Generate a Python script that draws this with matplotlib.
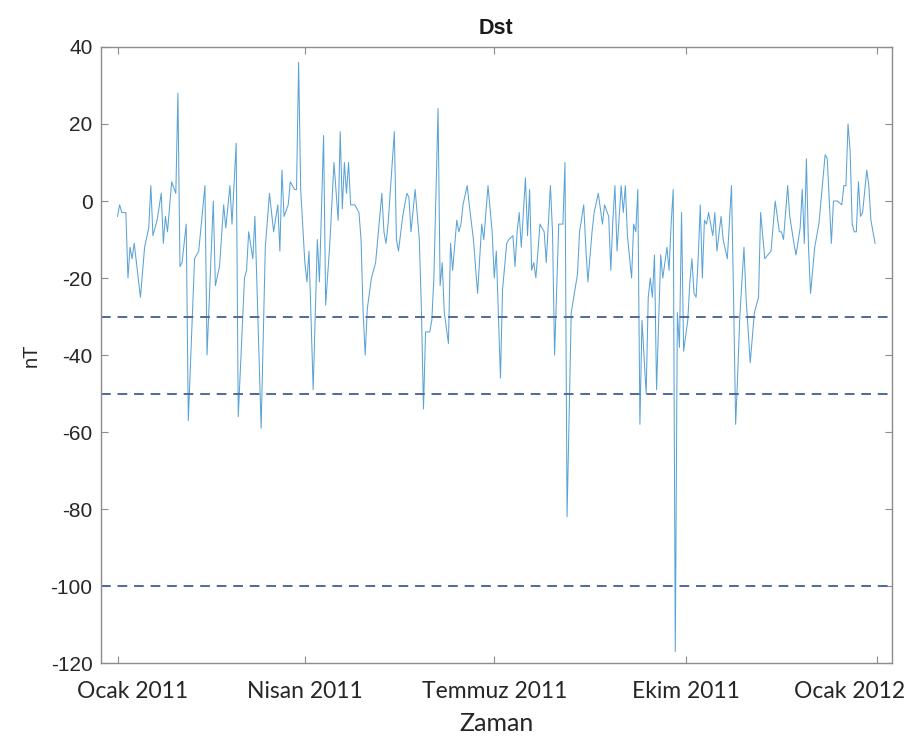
import numpy as np
import matplotlib
matplotlib.use("Agg")
import matplotlib.pyplot as plt
from matplotlib.transforms import ScaledTranslation

matplotlib.rcParams['font.family'] = ['Liberation Sans', 'DejaVu Sans']
matplotlib.rcParams['axes.unicode_minus'] = False

# ── data: Dst index (nT), day offsets from 2011-01-01 ──
day_offset = [
    0, 1, 2, 4, 5, 6, 7, 8, 11, 13, 15, 16, 17, 19, 21, 22, 23, 24, 26, 28,
    29, 30, 31, 33, 34, 37, 39, 42, 43, 46, 47, 49, 51, 52, 54, 55, 57, 58, 61, 62,
    63, 65, 66, 69, 71, 73, 75, 77, 78, 79, 80, 82, 83, 85, 86, 87, 88, 90, 91, 92,
    94, 96, 97, 99, 100, 102, 104, 106, 107, 108, 109, 110, 111, 112, 114, 116, 117, 118, 119, 120,
    122, 124, 125, 127, 128, 129, 130, 133, 134, 135, 137, 139, 140, 141, 143, 145, 146, 147, 148, 150,
    151, 152, 154, 155, 156, 157, 159, 160, 161, 163, 164, 165, 166, 168, 169, 171, 173, 175, 176, 178,
    180, 181, 182, 184, 185, 187, 188, 190, 191, 192, 193, 194, 196, 197, 198, 199, 200, 201, 203, 205,
    206, 208, 209, 210, 212, 214, 215, 216, 218, 221, 222, 224, 225, 226, 228, 229, 231, 233, 234, 236,
    237, 238, 239, 240, 242, 243, 244, 245, 247, 248, 249, 250, 251, 252, 254, 255, 256, 257, 258, 259,
    261, 262, 264, 265, 266, 267, 268, 269, 270, 271, 272, 274, 275, 276, 277, 278, 279, 280, 281, 282,
    283, 284, 286, 287, 288, 290, 291, 293, 295, 296, 297, 298, 299, 301, 302, 304, 306, 308, 309, 311,
    314, 316, 318, 319, 320, 322, 323, 325, 326, 328, 329, 330, 331, 332, 333, 335, 337, 338, 340, 341,
    343, 344, 346, 348, 349, 350, 351, 352, 353, 354, 355, 356, 357, 358, 360, 361, 362, 364,
]
dst_nT = [
    -4, -1, -3, -3, -20, -12, -15, -11, -25, -12, -7, 4, -9, -5, 2, -11, -4, -8, 5, 2,
    28, -17, -16, -6, -57, -15, -13, 4, -40, 0, -22, -17, -1, -7, 4, -6, 15, -56, -20, -18,
    -8, -15, -4, -59, -12, 2, -8, -1, -13, 8, -4, -1, 5, 3, 3, 36, 3, -16, -21, -13,
    -49, -10, -21, 17, -27, -11, 10, -5, 18, -2, 10, 2, 10, -1, -1, -3, -10, -29, -40, -28,
    -20, -16, -10, 2, -8, -11, -6, 18, -10, -13, -4, 2, 1, -8, 3, -10, -28, -54, -34, -34,
    -31, -20, 24, -22, -16, -29, -37, -11, -18, -5, -8, -6, -1, 4, -1, -10, -24, -6, -10, 4,
    -8, -20, -13, -46, -23, -11, -10, -9, -17, -8, -3, -12, 6, -9, 3, -18, -16, -20, -6, -8,
    -16, 4, -8, -40, -6, -6, 10, -82, -29, -19, -8, -1, -12, -21, -8, -3, 2, -6, -1, -4,
    -18, -5, 4, -13, 4, -3, 4, -9, -20, -6, -8, 3, -58, -31, -50, -25, -20, -25, -14, -49,
    -14, -20, -12, -18, -6, 3, -117, -29, -38, -3, -39, -31, -21, -15, -24, -25, -15, -1, -20, -5,
    -6, -3, -9, -3, -13, -4, -10, -15, 4, -25, -58, -45, -30, -12, -25, -42, -29, -25, -3, -15,
    -13, 0, -8, -8, -10, 4, -4, -11, -14, -7, 3, -11, 11, -12, -24, -12, -6, 0, 12, 11,
    -11, 0, 0, -1, 4, 4, 20, 13, -6, -8, -8, 5, -4, -3, 8, 4, -5, -11,
]
storm_levels = [-30, -50, -100]

yticks = list(range(-120, 41, 20))
tick_dates = ["2011-01-01", "2011-04-01", "2011-07-01", "2011-10-01", "2012-01-01"]
tick_labels = ["Ocak 2011", "Nisan 2011", "Temmuz 2011", "Ekim 2011", "Ocak 2012"]

start = np.datetime64("2011-01-01")
dates = start + np.array(day_offset).astype("timedelta64[D]")

fig = plt.figure(figsize=(9.09, 7.40), dpi=100)
ax = fig.add_axes([0.111, 0.104, 0.870, 0.8325])

ax.plot(dates, dst_nT, color="#5aa3d6", linewidth=0.75)
for lvl in storm_levels:
    ax.axhline(lvl, color="#50699a", linestyle=(0, (5, 3.5)), linewidth=1.4)

ax.set_ylim(-120, 40)
ax.set_yticks(yticks)
ax.set_xlim(start - np.timedelta64(8, "D"), start + np.timedelta64(372, "D"))
ax.set_xticks([np.datetime64(d) for d in tick_dates])
ax.set_xticklabels(tick_labels, family=["Lato", "DejaVu Sans"], fontsize=16.5)

for s in ax.spines.values():
    s.set_color("#8c8c8c")
    s.set_linewidth(1.0)
ax.tick_params(direction="in", top=True, right=True, length=5, width=0.8,
               color="#8c8c8c", labelcolor="#262626")
ax.tick_params(axis="y", labelsize=15, pad=6)
ax.tick_params(axis="x", pad=13)

# first and last month labels sit a bit inward in the original
xlabs = ax.get_xticklabels()
xlabs[0].set_transform(xlabs[0].get_transform() + ScaledTranslation(0.15, 0, fig.dpi_scale_trans))
xlabs[-1].set_transform(xlabs[-1].get_transform() + ScaledTranslation(-0.28, 0, fig.dpi_scale_trans))

ax.set_title("Dst", fontsize=15.5, fontweight="bold", color="#1a1a1a", pad=9)
ax.set_ylabel("nT", fontsize=14.5, color="#262626", labelpad=7)
ax.set_xlabel("Zaman", fontsize=18, color="#262626", family=["Lato", "DejaVu Sans"], labelpad=7)

plt.savefig("out.png", dpi=100)
plt.close()
